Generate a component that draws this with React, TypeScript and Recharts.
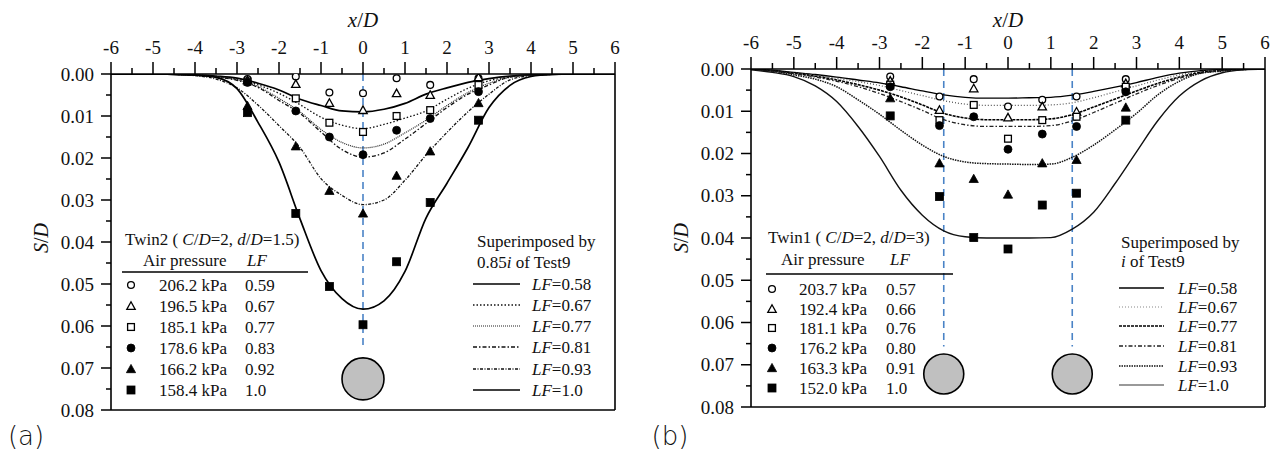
import React from 'react';
import { ComposedChart, Line, Scatter, XAxis, YAxis, ReferenceLine, ReferenceDot } from 'recharts';

// ---------- shared axes ----------
const xGrid = [-6, -5.5, -5, -4.5, -4, -3.5, -3, -2.5, -2, -1.5, -1, -0.5, 0, 0.5, 1, 1.5, 2, 2.5, 3, 3.5, 4, 4.5, 5, 5.5, 6];
const xTicks = [-6, -5.5, -5, -4.5, -4, -3.5, -3, -2.5, -2, -1.5, -1, -0.5, 0, 0.5, 1, 1.5, 2, 2.5, 3, 3.5, 4, 4.5, 5, 5.5, 6];
const yTicks = [0, 0.005, 0.01, 0.015, 0.02, 0.025, 0.03, 0.035, 0.04, 0.045, 0.05, 0.055, 0.06, 0.065, 0.07, 0.075, 0.08];
const measX = [-2.75, -1.6, -0.8, 0, 0.8, 1.6, 2.75];

// ---------- panel (a): Twin2 ----------
const aCurve058 = [0, 0, 0, 0.0001, 0.0002, 0.0005, 0.001, 0.0022, 0.0038, 0.006, 0.0075, 0.0088, 0.009, 0.0084, 0.007, 0.0048, 0.0033, 0.002, 0.0011, 0.0005, 0.0002, 0.0001, 0, 0, 0];
const aCurve067 = [0, 0, 0, 0.0001, 0.0002, 0.0006, 0.0012, 0.0026, 0.0046, 0.0073, 0.0103, 0.0122, 0.013, 0.012, 0.0105, 0.0088, 0.006, 0.0034, 0.0016, 0.0007, 0.0002, 0.0001, 0, 0, 0];
const aCurve077 = [0, 0, 0, 0.0001, 0.0003, 0.0007, 0.0014, 0.003, 0.0058, 0.009, 0.0132, 0.0163, 0.0176, 0.0167, 0.014, 0.011, 0.0075, 0.0044, 0.0022, 0.0008, 0.0003, 0.0001, 0, 0, 0];
const aCurve081 = [0, 0, 0, 0.0001, 0.0003, 0.0007, 0.0015, 0.0032, 0.0063, 0.0094, 0.0138, 0.018, 0.0198, 0.0188, 0.0155, 0.0118, 0.008, 0.0048, 0.0026, 0.0007, 0.0002, 0.0001, 0, 0, 0];
const aCurve093 = [0, 0, 0, 0.0001, 0.0004, 0.0012, 0.0033, 0.0074, 0.0123, 0.0175, 0.0249, 0.0289, 0.0311, 0.03, 0.0253, 0.0193, 0.0139, 0.009, 0.0048, 0.0014, 0.0004, 0.0001, 0, 0, 0];
const aCurve100 = [0, 0, 0, 0.0001, 0.0003, 0.0008, 0.0035, 0.0115, 0.021, 0.0345, 0.0468, 0.0535, 0.056, 0.054, 0.047, 0.0343, 0.026, 0.0175, 0.008, 0.0027, 0.0006, 0.0001, 0, 0, 0];
const aLegendLF = ['0.58', '0.67', '0.77', '0.81', '0.93', '1.0'];

const aPts059 = [0.0012, 0.0006, 0.0044, 0.0046, 0.001, 0.0026, 0.001];
const aPts067 = [0.0015, 0.0024, 0.0069, 0.0086, 0.0046, 0.005, 0.0008];
const aPts077 = [0.0018, 0.0058, 0.0116, 0.0138, 0.01, 0.0086, 0.0026];
const aPts083 = [0.002, 0.0088, 0.015, 0.0192, 0.0134, 0.0106, 0.0042];
const aPts092 = [0.0076, 0.0172, 0.0278, 0.0332, 0.0242, 0.0184, 0.0069];
const aPts100 = [0.0092, 0.0332, 0.0506, 0.0597, 0.0447, 0.0306, 0.011];
const aPressures = ['206.2 kPa', '196.5 kPa', '185.1 kPa', '178.6 kPa', '166.2 kPa', '158.4 kPa'];
const aPtsLF = ['0.59', '0.67', '0.77', '0.83', '0.92', '1.0'];
const aTunnelX = [0];
const aTunnelY = 0.0726;
const aDashEnd = 0.0655;

// ---------- panel (b): Twin1 ----------
const bCurve058 = [0, 0.0003, 0.0008, 0.0013, 0.0019, 0.0026, 0.0033, 0.0042, 0.0052, 0.0061, 0.0067, 0.0069, 0.0069, 0.0068, 0.0067, 0.0062, 0.0053, 0.0043, 0.0032, 0.002, 0.001, 0.0004, 0.0001, 0, 0];
const bCurve067 = [0, 0.0004, 0.0009, 0.0015, 0.0022, 0.003, 0.0039, 0.0051, 0.0063, 0.0075, 0.0083, 0.0086, 0.0086, 0.0086, 0.0085, 0.008, 0.0068, 0.0054, 0.004, 0.0026, 0.0014, 0.0006, 0.0002, 0, 0];
const bCurve077 = [0, 0.0004, 0.001, 0.0017, 0.0026, 0.0037, 0.005, 0.0066, 0.0085, 0.0105, 0.0116, 0.012, 0.012, 0.012, 0.0118, 0.0108, 0.009, 0.0071, 0.0052, 0.0034, 0.0019, 0.0008, 0.0003, 0.0001, 0];
const bCurve081 = [0, 0.0005, 0.0011, 0.0019, 0.0029, 0.0042, 0.0058, 0.0077, 0.0098, 0.012, 0.0132, 0.0136, 0.0136, 0.0136, 0.0134, 0.0123, 0.0103, 0.0081, 0.0059, 0.0039, 0.0022, 0.001, 0.0004, 0.0001, 0];
const bCurve093 = [0, 0.0005, 0.0014, 0.0024, 0.0042, 0.0073, 0.0107, 0.0145, 0.018, 0.0207, 0.022, 0.0224, 0.0225, 0.0226, 0.0225, 0.0209, 0.018, 0.0144, 0.0105, 0.0061, 0.0029, 0.001, 0.0005, 0.0001, 0];
const bCurve100 = [0.0002, 0.0008, 0.0018, 0.004, 0.0077, 0.0136, 0.0207, 0.0287, 0.0346, 0.0383, 0.0397, 0.04, 0.04, 0.04, 0.0399, 0.0379, 0.0339, 0.0271, 0.0196, 0.0122, 0.0064, 0.0028, 0.0009, 0.0002, 0];
const bLegendLF = ['0.58', '0.67', '0.77', '0.81', '0.93', '1.0'];

const bPts057 = [0.0018, 0.0065, 0.0024, 0.0089, 0.0073, 0.0065, 0.0024];
const bPts066 = [0.0028, 0.0097, 0.0046, 0.0115, 0.0089, 0.0101, 0.0034];
const bPts076 = [0.0037, 0.0121, 0.0085, 0.0165, 0.0121, 0.0113, 0.0042];
const bPts080 = [0.0042, 0.0134, 0.0113, 0.019, 0.0154, 0.0136, 0.0054];
const bPts091 = [0.0069, 0.0223, 0.026, 0.0297, 0.0223, 0.0215, 0.0091];
const bPts100 = [0.0111, 0.0302, 0.0399, 0.0426, 0.0322, 0.0294, 0.0121];
const bPressures = ['203.7 kPa', '192.4 kPa', '181.1 kPa', '176.2 kPa', '163.3 kPa', '152.0 kPa'];
const bPtsLF = ['0.57', '0.66', '0.76', '0.80', '0.91', '1.0'];
const bTunnelX = [-1.5, 1.5];
const bTunnelY = 0.0722;
const bDashEnd = 0.0657;

// ---------- styles ----------
const FONT = "'Liberation Serif', 'Times New Roman', Times, 'DejaVu Serif', serif";
const SERIF: React.CSSProperties = { fontFamily: FONT };
const BLUE = '#4a83c6';
const shapes = ['openCircle', 'openTriangle', 'openSquare', 'filledCircle', 'filledTriangle', 'filledSquare'];

const styleA = [
  { dash: undefined, width: 1.7, color: '#000' },
  { dash: '1.5 2', width: 1.3, color: '#111' },
  { dash: '1 1', width: 1.2, color: '#222' },
  { dash: '4 2 1.5 2', width: 1.3, color: '#111' },
  { dash: '3 1.5 1 1.5', width: 1.3, color: '#111' },
  { dash: undefined, width: 1.7, color: '#000' },
];
const styleB = [
  { dash: undefined, width: 1.3, color: '#000', legend: '#000' },
  { dash: '1 2', width: 1.2, color: '#555', legend: '#888' },
  { dash: '3 1', width: 1.6, color: '#000', legend: '#000' },
  { dash: '4 2 1.5 2', width: 1.3, color: '#222', legend: '#222' },
  { dash: '1.5 1', width: 1.5, color: '#111', legend: '#111' },
  { dash: undefined, width: 1.4, color: '#111', legend: '#777' },
];

function Sym({ kind, cx, cy }: { kind: string; cx: number; cy: number }) {
  const filled = kind.startsWith('filled');
  const fill = filled ? '#000' : '#fff';
  const sw = filled ? 0.8 : 1.3;
  if (kind.endsWith('Circle')) {
    return <circle cx={cx} cy={cy} r={filled ? 4 : 3.4} fill={fill} stroke="#000" strokeWidth={sw} />;
  }
  if (kind.endsWith('Triangle')) {
    const s = filled ? 4.6 : 4.2;
    return (
      <polygon
        points={`${cx},${cy - s} ${cx - s},${cy + s * 0.8} ${cx + s},${cy + s * 0.8}`}
        fill={fill}
        stroke="#000"
        strokeWidth={sw}
      />
    );
  }
  const h = filled ? 4 : 3.4;
  return <rect x={cx - h} y={cy - h} width={2 * h} height={2 * h} fill={fill} stroke="#000" strokeWidth={sw} />;
}

function XTick(props: any) {
  const { x, y, payload } = props;
  const v = payload.value;
  const major = Math.abs(v - Math.round(v)) < 1e-6;
  return (
    <g>
      <line x1={x} y1={y} x2={x} y2={y - (major ? 12 : 6)} stroke="#000" strokeWidth={1.5} />
      {major && (
        <text x={x} y={y - 20} textAnchor="middle" fontSize={19} style={SERIF} fill="#111">
          {String(Math.round(v))}
        </text>
      )}
    </g>
  );
}

function YTick(props: any) {
  const { x, y, payload } = props;
  const v = payload.value;
  const major = Math.round(v * 1000) % 10 === 0;
  return (
    <g>
      <line x1={x} y1={y} x2={x - (major ? 10 : 5)} y2={y} stroke="#000" strokeWidth={1.5} />
      {major && (
        <text x={x - 17} y={y} dy="0.35em" textAnchor="end" fontSize={19} style={SERIF} fill="#111">
          {v.toFixed(2)}
        </text>
      )}
    </g>
  );
}

type PanelProps = {
  left: number;
  width: number;
  margin: { top: number; right: number; bottom: number; left: number };
  curves: number[][];
  styles: any[];
  points: number[][];
  tunnelsX: number[];
  tunnelY: number;
  dashEnd: number;
  tunnelR: number;
};

function Panel({ left, width, margin, curves, styles, points, tunnelsX, tunnelY, dashEnd, tunnelR }: PanelProps) {
  return (
    <div style={{ position: 'absolute', left, top: 0 }}>
      <ComposedChart width={width} height={459} margin={margin}>
        <XAxis
          type="number"
          dataKey="x"
          orientation="top"
          domain={[-6, 6]}
          ticks={xTicks}
          interval={0}
          height={40}
          tickLine={false}
          tickSize={0}
          tickMargin={0}
          axisLine={{ stroke: '#000', strokeWidth: 1.6 }}
          tick={(p: any) => <XTick {...p} />}
          allowDataOverflow
        />
        <YAxis
          type="number"
          dataKey="y"
          domain={[0, 0.08]}
          reversed
          ticks={yTicks}
          interval={0}
          width={60}
          tickLine={false}
          tickSize={0}
          tickMargin={0}
          axisLine={{ stroke: '#000', strokeWidth: 1.6 }}
          tick={(p: any) => <YTick {...p} />}
          allowDataOverflow
        />
        <ReferenceLine x={6} stroke="#000" strokeWidth={1.6} />
        <ReferenceLine y={0.08} stroke="#000" strokeWidth={1.6} />
        {tunnelsX.map((tx) => (
          <ReferenceLine
            key={'d' + tx}
            segment={[{ x: tx, y: 0 }, { x: tx, y: dashEnd }]}
            stroke={BLUE}
            strokeWidth={1.6}
            strokeDasharray="7 5"
          />
        ))}
        {curves.map((c, i) => (
          <Line
            key={'c' + i}
            data={xGrid.map((x, j) => ({ x, y: c[j] }))}
            dataKey="y"
            type="monotone"
            dot={false}
            activeDot={false}
            stroke={styles[i].color}
            strokeWidth={styles[i].width}
            strokeDasharray={styles[i].dash}
            isAnimationActive={false}
          />
        ))}
        {points.map((p, i) => (
          <Scatter
            key={'p' + i}
            data={measX.map((x, j) => ({ x, y: p[j] }))}
            dataKey="y"
            isAnimationActive={false}
            shape={(sp: any) => <Sym kind={shapes[i]} cx={sp.cx} cy={sp.cy} />}
          />
        ))}
        {tunnelsX.map((tx) => (
          <ReferenceDot key={'t' + tx} x={tx} y={tunnelY} r={tunnelR} fill="#c0c0c0" stroke="#000" strokeWidth={1.6} />
        ))}
      </ComposedChart>
    </div>
  );
}

function It({ children }: { children: React.ReactNode }) {
  return <tspan fontStyle="italic">{children}</tspan>;
}

function Legends() {
  const aRows = [285, 306, 327, 348, 369, 390];
  const aRowsR = [284, 305, 326, 347, 369, 390];
  const bRows = [289, 309, 328, 348, 368, 388];
  const bRowsR = [288, 307, 326, 346, 366, 385];
  const fs = 17;
  return (
    <svg width={1279} height={459} style={{ position: 'absolute', left: 0, top: 0, pointerEvents: 'none', fontFamily: FONT }} fill="#111">
      {/* axis titles */}
      <text x={363} y={27} fontSize={21} textAnchor="middle" style={SERIF}><It>x</It>/<It>D</It></text>
      <text x={1008} y={27} fontSize={21} textAnchor="middle" style={SERIF}><It>x</It>/<It>D</It></text>
      <text x={0} y={0} fontSize={20} textAnchor="middle" style={SERIF} transform="translate(48,238) rotate(-90)"><It>S</It>/<It>D</It></text>
      <text x={0} y={0} fontSize={20} textAnchor="middle" style={SERIF} transform="translate(688,238) rotate(-90)"><It>S</It>/<It>D</It></text>
      <text x={26} y={445} fontSize={26} textAnchor="middle" style={{ fontFamily: "'DejaVu Sans', sans-serif", fontWeight: 300 }}>(a)</text>
      <text x={670} y={445} fontSize={26} textAnchor="middle" style={{ fontFamily: "'DejaVu Sans', sans-serif", fontWeight: 300 }}>(b)</text>

      {/* panel a, left legend */}
      <text x={125} y={245} fontSize={fs} style={SERIF}>Twin2 ( <It>C</It>/<It>D</It>=2, <It>d</It>/<It>D</It>=1.5)</text>
      <text x={143} y={266} fontSize={fs} style={SERIF}>Air pressure</text>
      <text x={247} y={266} fontSize={fs} style={SERIF}><It>LF</It></text>
      <line x1={122} y1={272} x2={308} y2={272} stroke="#000" strokeWidth={1.6} />
      {aRows.map((y, i) => (
        <g key={'ar' + i}>
          <Sym kind={shapes[i]} cx={131} cy={y} />
          <text x={159} y={y + 6} fontSize={fs} style={SERIF}>{aPressures[i]}</text>
          <text x={245} y={y + 6} fontSize={fs} style={SERIF}>{aPtsLF[i]}</text>
        </g>
      ))}
      {/* panel a, right legend */}
      <text x={477} y={247} fontSize={fs} style={SERIF}>Superimposed by</text>
      <text x={477} y={268} fontSize={fs} style={SERIF}>0.85<It>i</It> of Test9</text>
      {aRowsR.map((y, i) => (
        <g key={'al' + i}>
          <line x1={473} y1={y} x2={520} y2={y} stroke={styleA[i].color} strokeWidth={styleA[i].width} strokeDasharray={styleA[i].dash} />
          <text x={532} y={y + 6} fontSize={fs} style={SERIF}><It>LF</It>={aLegendLF[i]}</text>
        </g>
      ))}

      {/* panel b, left legend */}
      <text x={768} y={243} fontSize={fs} style={SERIF}>Twin1 ( <It>C</It>/<It>D</It>=2, <It>d</It>/<It>D</It>=3)</text>
      <text x={781} y={265} fontSize={fs} style={SERIF}>Air pressure</text>
      <text x={890} y={265} fontSize={fs} style={SERIF}><It>LF</It></text>
      <line x1={766} y1={274} x2={953} y2={274} stroke="#000" strokeWidth={1.6} />
      {bRows.map((y, i) => (
        <g key={'br' + i}>
          <Sym kind={shapes[i]} cx={772} cy={y} />
          <text x={799} y={y + 6} fontSize={fs} style={SERIF}>{bPressures[i]}</text>
          <text x={886} y={y + 6} fontSize={fs} style={SERIF}>{bPtsLF[i]}</text>
        </g>
      ))}
      {/* panel b, right legend */}
      <text x={1121} y={248} fontSize={fs} style={SERIF}>Superimposed by</text>
      <text x={1121} y={267} fontSize={fs} style={SERIF}><It>i</It> of Test9</text>
      {bRowsR.map((y, i) => (
        <g key={'bl' + i}>
          <line x1={1119} y1={y} x2={1164} y2={y} stroke={styleB[i].legend} strokeWidth={styleB[i].width} strokeDasharray={styleB[i].dash} />
          <text x={1178} y={y + 6} fontSize={fs} style={SERIF}><It>LF</It>={bLegendLF[i]}</text>
        </g>
      ))}
    </svg>
  );
}

export default function App() {
  return (
    <div style={{ position: 'absolute', left: 0, top: 0, width: 1279, height: 459, background: '#fff', overflow: 'hidden' }}>
      <Panel
        left={0}
        width={640}
        margin={{ top: 34, right: 25, bottom: 49, left: 51 }}
        curves={[aCurve058, aCurve067, aCurve077, aCurve081, aCurve093, aCurve100]}
        styles={styleA}
        points={[aPts059, aPts067, aPts077, aPts083, aPts092, aPts100]}
        tunnelsX={aTunnelX}
        tunnelY={aTunnelY}
        dashEnd={aDashEnd}
        tunnelR={21}
      />
      <Panel
        left={640}
        width={639}
        margin={{ top: 29, right: 14, bottom: 52, left: 51 }}
        curves={[bCurve058, bCurve067, bCurve077, bCurve081, bCurve093, bCurve100]}
        styles={styleB}
        points={[bPts057, bPts066, bPts076, bPts080, bPts091, bPts100]}
        tunnelsX={bTunnelX}
        tunnelY={bTunnelY}
        dashEnd={bDashEnd}
        tunnelR={20}
      />
      <Legends />
    </div>
  );
}
